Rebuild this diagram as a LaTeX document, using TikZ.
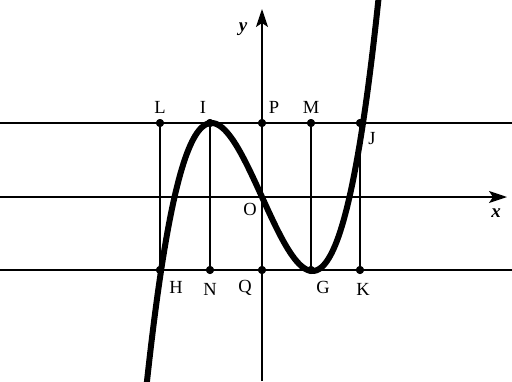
\documentclass[tikz,border=0pt]{standalone}
\usepackage{fontspec}
\setmainfont{Liberation Serif}
\usetikzlibrary{arrows.meta}
\begin{document}
\begin{tikzpicture}[x=1pt,y=-1pt,
  dot/.style={circle,fill=black,inner sep=0pt,minimum size=8pt},
  lbl/.style={font=\fontsize{18.5}{18.5}\selectfont,inner sep=0pt},
  axislbl/.style={font=\fontsize{19}{19}\selectfont\bfseries\itshape,inner sep=0pt},
  axis/.style={line width=1.4pt,-{Stealth[length=18pt,width=12pt,inset=4pt]}},
  hline/.style={line width=2.4pt},
  vline/.style={line width=1.8pt},
  curve/.style={line width=6pt}]
\useasboundingbox (0,0) rectangle (512,381);
\clip (0,0) rectangle (512,381);
% points
\node[dot] (L) at (160,123) {};
\node[dot] (I) at (210,123) {};
\node[dot] (P) at (262,123) {};
\node[dot] (M) at (311,123) {};
\node[dot] (J) at (360,123) {};
\node[dot] (H) at (160,270) {};
\node[dot] (N) at (210,270) {};
\node[dot] (Q) at (262,270) {};
\node[dot] (G) at (311,270) {};
\node[dot] (K) at (360,270) {};
\coordinate (hl1) at (0,123);
\coordinate (hr1) at (512,123);
\coordinate (hl2) at (0,270);
\coordinate (hr2) at (512,270);
\coordinate (xs) at (0,197);
\coordinate (xe) at (507,197);
\coordinate (ys) at (262,381);
\coordinate (ye) at (262,9);
% axes
\draw[axis] (xs) -- (xe);
\draw[axis] (ys) -- (ye);
% horizontal lines
\draw[hline] (hl1) -- (hr1);
\draw[hline] (hl2) -- (hr2);
% vertical lines
\draw[vline] (L) -- (H);
\draw[vline] (I) -- (N);
\draw[vline] (M) -- (G);
\draw[vline] (J) -- (K);
% curve
\draw[curve] plot[domain=-2.32:2.32,samples=150,smooth] ({262+50.5*\x},{197-37*(\x*\x*\x-3*\x)});
% redraw dots on top
\foreach \p in {L,I,P,M,J,H,N,Q,G,K} \fill (\p) circle (4pt);
% labels
\node[lbl] at (160,107) {L};
\node[lbl] at (203,107) {I};
\node[lbl] at (274,107) {P};
\node[lbl] at (311,107) {M};
\node[lbl] at (372,139) {J};
\node[lbl] at (250,209) {O};
\node[lbl] at (176,287) {H};
\node[lbl] at (210,289) {N};
\node[lbl] at (245,288) {Q};
\node[lbl] at (323,287) {G};
\node[lbl] at (363,289) {K};
\node[axislbl] at (243,29) {y};
\node[axislbl] at (496,213) {x};
\end{tikzpicture}
\end{document}
